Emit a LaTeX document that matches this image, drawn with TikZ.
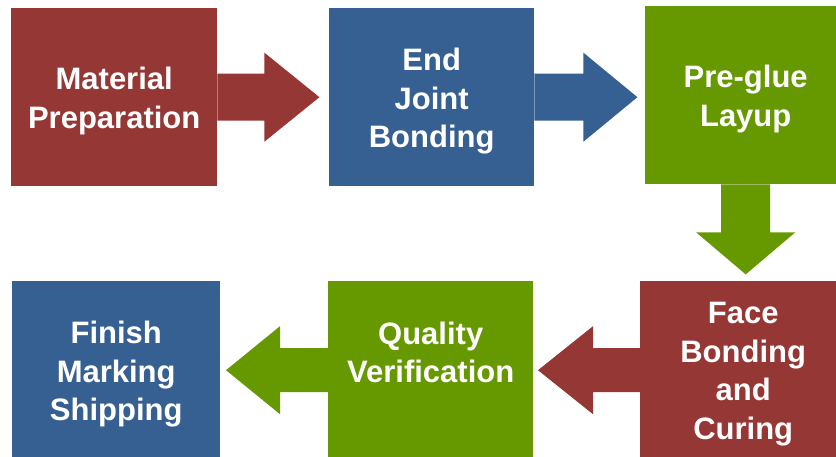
\documentclass[tikz,border=0pt]{standalone}
\usepackage{fontspec}
\setmainfont{Liberation Sans}
\usetikzlibrary{calc}
\definecolor{stepred}{HTML}{953735}
\definecolor{stepblue}{HTML}{376092}
\definecolor{stepgreen}{HTML}{669900}
\begin{document}
\begin{tikzpicture}[x=1pt,y=-1pt,
  stepbox/.style={rectangle, draw=none, anchor=north west, inner sep=0pt,
    minimum height=178pt},
  steplabel/.style={text=white, align=center, inner sep=0pt,
    font=\fontsize{31}{38.5}\selectfont\bfseries}]
\useasboundingbox (0,0) rectangle (836,457);
\fill[white] (0,0) rectangle (836,457);

% top row
\node[stepbox, fill=stepred,   minimum width=206pt] (b1) at (11,8)  {};
\node[stepbox, fill=stepblue,  minimum width=205pt] (b2) at (329,8) {};
\node[stepbox, fill=stepgreen, minimum width=201pt] (b3) at (645,6) {};
% bottom row
\node[stepbox, fill=stepred,   minimum width=206pt] (b4) at (640,281) {};
\node[stepbox, fill=stepgreen, minimum width=205pt] (b5) at (328,281) {};
\node[stepbox, fill=stepblue,  minimum width=208pt] (b6) at (12,281) {};

% box texts
\node[steplabel] (t1) at ([yshift=-4pt]b1.center) {Material\\Preparation};
\node[steplabel] (t2) at ([yshift=-4pt]b2.center) {End\\Joint\\Bonding};
\node[steplabel] (t3) at ([yshift=-4pt]b3.center) {Pre-glue\\Layup};
\node[steplabel] (t4) at ([yshift=-4pt]b4.center) {Face\\Bonding\\and\\Curing};
\node[steplabel] (t5) at ([yshift=18pt]b5.center) {Quality\\Verification};
\node[steplabel] (t6) at ([yshift=-4pt]b6.center) {Finish\\Marking\\Shipping};

% block arrows leaving each box
\fill[stepred]
  ($(b1.east)+(0,-23.5)$) -- ++(47,0) -- ++(0,-21) -- ($(b1.east)+(102,0)$)
  -- ($(b1.east)+(47,44.5)$) -- ++(0,-21) -- ($(b1.east)+(0,23.5)$) -- cycle;
\fill[stepblue]
  ($(b2.east)+(0,-23.5)$) -- ++(49,0) -- ++(0,-21) -- ($(b2.east)+(103,0)$)
  -- ($(b2.east)+(49,44.5)$) -- ++(0,-21) -- ($(b2.east)+(0,23.5)$) -- cycle;
\fill[stepgreen]
  ($(b3.south)+(-24.5,0)$) -- ++(0,48) -- ++(-25,0) -- ($(b3.south)+(0,90)$)
  -- ($(b3.south)+(49.5,48)$) -- ++(-25,0) -- ($(b3.south)+(24.5,0)$) -- cycle;
\fill[stepred]
  ($(b4.west)+(0,-22)$) -- ++(-47,0) -- ++(0,-22) -- ($(b4.west)+(-102,0)$)
  -- ($(b4.west)+(-47,44)$) -- ++(0,-22) -- ($(b4.west)+(0,22)$) -- cycle;
\fill[stepgreen]
  ($(b5.west)+(0,-22)$) -- ++(-48,0) -- ++(0,-22) -- ($(b5.west)+(-102,0)$)
  -- ($(b5.west)+(-48,44)$) -- ++(0,-22) -- ($(b5.west)+(0,22)$) -- cycle;
\end{tikzpicture}
\end{document}
